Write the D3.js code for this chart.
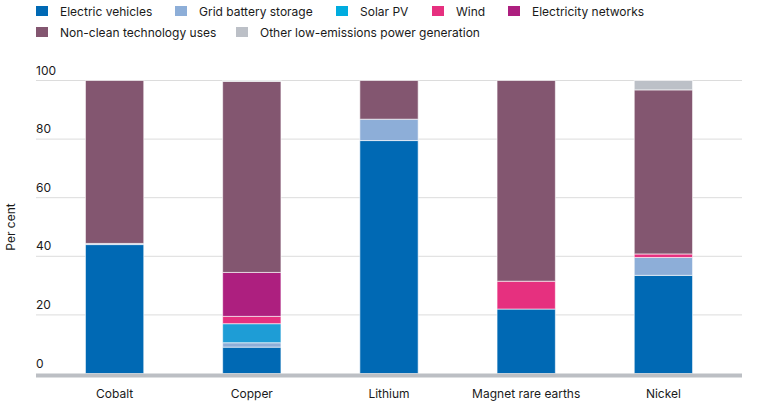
<!DOCTYPE html>
<html>
<head>
<meta charset="utf-8">
<script src="https://cdn.jsdelivr.net/npm/d3@7"></script>
<style>
  body { margin: 0; background: #fff; }
  svg { font-family: Inter, 'Noto Sans', sans-serif; }
</style>
</head>
<body>
<div id="chart"></div>
<script>
const materials = ['Cobalt', 'Copper', 'Lithium', 'Magnet rare earths', 'Nickel'];
const seriesNames = ['Electric vehicles', 'Grid battery storage', 'Solar PV', 'Wind',
  'Electricity networks', 'Non-clean technology uses', 'Other low-emissions power generation'];
const electricVehicles = [44, 9, 79.5, 22, 33.5];
const gridBatteryStorage = [0.4, 1.5, 7.3, 0, 6.1];
const solarPV = [0, 6.5, 0, 0, 0];
const wind = [0, 2.5, 0, 9.5, 1.2];
const electricityNetworks = [0, 15, 0, 0, 0];
const nonCleanUses = [55.6, 65.2, 13.2, 68.5, 56];
const otherLowEmissions = [0, 0.3, 0, 0, 3.2];
const yTicks = [0, 20, 40, 60, 80, 100];

const colors = ['#0069b4', '#8daed8', '#1e9dd6', '#e6307f', '#ad1f7f', '#835670', '#bcc0c7'];
const legendColors = ['#0069b4', '#8daed8', '#00acdf', '#e6307f', '#ad1f7f', '#835670', '#bcc0c7'];

const values = [electricVehicles, gridBatteryStorage, solarPV, wind,
  electricityNetworks, nonCleanUses, otherLowEmissions];

const rows = materials.map((m, i) => {
  const r = { material: m };
  seriesNames.forEach((s, j) => { r[s] = values[j][i]; });
  return r;
});

const width = 764, height = 410;
const plot = { left: 36, right: 742, top: 80.5, bottom: 373.5 };

const svg = d3.select('#chart').append('svg')
  .attr('width', width)
  .attr('height', height);

const x = d3.scaleBand()
  .domain(materials)
  .range([46, 732])
  .paddingInner(0.575)
  .paddingOuter(0.2875);

const y = d3.scaleLinear()
  .domain([0, 100])
  .range([plot.bottom, plot.top]);

// gridlines + labels
const grid = svg.append('g').attr('class', 'grid');
grid.selectAll('line').data(yTicks.filter(d => d > 0)).enter()
  .append('line')
  .attr('x1', plot.left).attr('x2', plot.right)
  .attr('y1', d => y(d)).attr('y2', d => y(d))
  .attr('stroke', '#dcdcdc')
  .attr('stroke-width', 1);

grid.selectAll('text').data(yTicks).enter()
  .append('text')
  .attr('x', plot.left)
  .attr('y', d => y(d) - 6)
  .attr('font-size', 12)
  .attr('fill', '#1a1a1a')
  .text(d => d);

svg.append('text')
  .attr('transform', 'translate(15,' + ((plot.top + plot.bottom) / 2) + ') rotate(-90)')
  .attr('text-anchor', 'middle')
  .attr('font-size', 12)
  .attr('fill', '#1a1a1a')
  .text('Per cent');

// stacked bars
const stack = d3.stack().keys(seriesNames)(rows);

svg.append('g').selectAll('g').data(stack).enter()
  .append('g')
  .attr('fill', (d, i) => colors[i])
  .selectAll('rect').data(d => d.filter(p => p[1] - p[0] > 0)).enter()
  .append('rect')
  .attr('x', d => x(d.data.material))
  .attr('width', x.bandwidth())
  .attr('y', d => y(d[1]))
  .attr('height', d => y(d[0]) - y(d[1]))
  .attr('stroke', '#ffffff')
  .attr('stroke-opacity', 0.6)
  .attr('stroke-width', 1);

// baseline
svg.append('line')
  .attr('x1', plot.left).attr('x2', plot.right)
  .attr('y1', y(0) + 2).attr('y2', y(0) + 2)
  .attr('stroke', '#bcbfc4')
  .attr('stroke-width', 4);

const xAxis = d3.axisBottom(x).tickSize(0).tickPadding(0);
svg.append('g')
  .attr('transform', 'translate(0,' + 389 + ')')
  .call(xAxis)
  .call(g => g.select('.domain').remove())
  .selectAll('text')
  .attr('font-size', 12)
  .attr('font-family', 'Inter, sans-serif')
  .attr('fill', '#1a1a1a');

// legend
const legendPos = [[36, 11], [175, 11], [336, 11], [432, 11], [508, 11], [36, 32], [236, 32]];
const legend = svg.append('g').selectAll('g').data(seriesNames).enter()
  .append('g')
  .attr('transform', (d, i) => 'translate(' + legendPos[i][0] + ',' + legendPos[i][1] + ')');

legend.append('rect')
  .attr('x', 0).attr('y', -5)
  .attr('width', 12).attr('height', 10)
  .attr('fill', (d, i) => legendColors[i]);

legend.append('text')
  .attr('x', 24)
  .attr('y', 4.5)
  .attr('font-size', 12)
  .attr('fill', '#1a1a1a')
  .text(d => d);
</script>
</body>
</html>
